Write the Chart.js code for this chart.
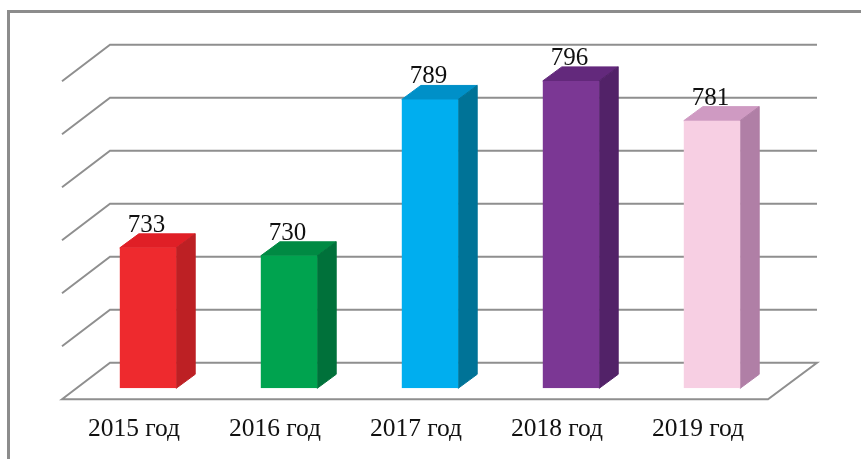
<!DOCTYPE html>
<html lang="ru">

<head>
    <meta charset="UTF-8">
    <title>Chart</title>
    <script src="https://cdnjs.cloudflare.com/ajax/libs/Chart.js/4.4.1/chart.umd.js"></script>
    <style>
        body { margin: 0; background: #fff; overflow: hidden; }
        #frame { position: absolute; left: 7px; top: 10px; width: 860px; height: 460px; border-left: 3px solid #8c8c8c; border-top: 3px solid #8c8c8c; }
        canvas { position: absolute; left: 0; top: 0; }
    </style>
</head>

<body>
    <div id="frame"></div>
    <canvas id="myChart" width="861" height="459"></canvas>
    <script>
        // data
        var labels = ['2015 год', '2016 год', '2017 год', '2018 год', '2019 год'];
        var values = [733, 730, 789, 796, 781];
        var yMin = 680;
        var yMax = 800;
        var yStep = 20;

        // bar faces
        var frontColors = ['#ee2a2e', '#00a34f', '#00aeef', '#7b3794', '#f7cfe3'];
        var topColors = ['#e01f26', '#008a43', '#0090c8', '#63297c', '#cf9ac2'];
        var sideColors = ['#bd2024', '#00713a', '#007397', '#522268', '#b07fa6'];

        var gridColor = '#8f8f8f';
        var textColor = '#111';
        var fontName = '"Liberation Serif", serif';

        function poly(ctx, pts, color) {
            ctx.fillStyle = color;
            ctx.strokeStyle = color;
            ctx.lineWidth = 1;
            ctx.beginPath();
            ctx.moveTo(pts[0][0], pts[0][1]);
            for (let i = 1; i < pts.length; i++) ctx.lineTo(pts[i][0], pts[i][1]);
            ctx.closePath();
            ctx.fill();
            ctx.stroke();
        }

        // 3d look: walls, floor and the top and side of each bar
        var fake3d = {
            id: 'fake3d',
            beforeDatasetsDraw(chart) {
                var ctx = chart.ctx;
                var area = chart.chartArea;
                var y = chart.scales.y;
                ctx.save();
                ctx.strokeStyle = gridColor;
                ctx.lineWidth = 2;
                y.ticks.forEach(function (t) {
                    var py = y.getPixelForValue(t.value);
                    ctx.beginPath();
                    ctx.moveTo(area.left - 15.5, py + 11);
                    ctx.lineTo(area.left + 32.5, py - 25.5);
                    ctx.lineTo(area.right + 34.5, py - 25.5);
                    if (t.value == yMin) {
                        ctx.lineTo(area.right - 14.5, py + 11);
                        ctx.closePath();
                    }
                    ctx.stroke();
                });
                chart.getDatasetMeta(0).data.forEach(function (bar, i) {
                    var l = bar.x - bar.width / 2;
                    var r = bar.x + bar.width / 2;
                    poly(ctx, [[l, bar.y], [r, bar.y], [r + 19, bar.y - 14], [l + 19, bar.y - 14]], topColors[i]);
                    poly(ctx, [[r, bar.y], [r + 19, bar.y - 14], [r + 19, bar.base - 14], [r, bar.base]], sideColors[i]);
                });
                ctx.restore();
            },
            afterDatasetsDraw(chart) {
                var ctx = chart.ctx;
                ctx.save();
                ctx.fillStyle = textColor;
                ctx.font = '25px ' + fontName;
                ctx.textAlign = 'center';
                ctx.textBaseline = 'alphabetic';
                chart.getDatasetMeta(0).data.forEach(function (bar, i) {
                    ctx.fillText(values[i], bar.x - 1.5, bar.y - 16);
                });
                ctx.restore();
            }
        };

        var myChart = new Chart(document.getElementById('myChart'), {
            type: 'bar',
            data: {
                labels: labels,
                datasets: [{
                    data: values,
                    base: yMin,
                    backgroundColor: frontColors,
                    barPercentage: 0.4,
                    categoryPercentage: 1
                }]
            },
            options: {
                responsive: false,
                animation: false,
                layout: { padding: { left: 77.5, right: 78.5, top: 70.3, bottom: 0 } },
                plugins: { legend: { display: false }, tooltip: { enabled: false } },
                scales: {
                    x: {
                        grid: { display: false },
                        border: { display: false },
                        afterFit: function (scale) { scale.height = 70.7; },
                        ticks: {
                            color: textColor,
                            font: { family: fontName, size: 25.5 },
                            padding: 18,
                            labelOffset: -14,
                            maxRotation: 0,
                            autoSkip: false
                        }
                    },
                    y: {
                        display: false,
                        min: yMin,
                        max: yMax,
                        ticks: { stepSize: yStep }
                    }
                }
            },
            plugins: [fake3d]
        });
    </script>
</body>

</html>
